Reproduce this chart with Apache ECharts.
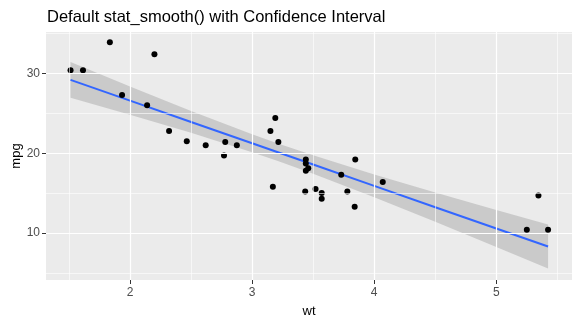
<!DOCTYPE html>
<html><head><meta charset="utf-8">
<script src="https://cdn.jsdelivr.net/npm/echarts@6/dist/echarts.min.js"></script>
<style>html,body{margin:0;padding:0;background:#fff}#c{width:580px;height:325px}</style>
</head><body><div id="c"></div>
<script>
// mtcars: weight (1000 lbs) and mpg
const wt  = [2.620,2.875,2.320,3.215,3.440,3.460,3.570,3.190,3.150,3.440,3.440,4.070,3.730,3.780,5.250,5.424,5.345,2.200,1.615,1.835,2.465,3.520,3.435,3.840,3.845,1.935,2.140,1.513,3.170,2.770,3.570,2.780];
const mpg = [21.0,21.0,22.8,21.4,18.7,18.1,14.3,24.4,22.8,19.2,17.8,16.4,17.3,15.2,10.4,10.4,14.7,32.4,30.4,33.9,21.5,15.5,15.2,13.3,19.2,27.3,26.0,30.4,15.8,19.7,15.0,21.4];
// smooth line and confidence band, read at these x positions
const bandX     = [1.513, 2.0, 2.5, 3.0, 3.217, 3.5, 4.0, 4.5, 5.0, 5.424];
const fitY      = [29.20, 26.60, 23.92, 21.25, 20.09, 18.58, 15.91, 13.23, 10.56, 8.30];
const lowerY    = [26.96, 24.82, 22.55, 20.12, 18.99, 17.43, 14.49, 11.40, 8.25, 5.55];
const upperY    = [31.43, 28.37, 25.30, 22.38, 21.19, 19.73, 17.32, 15.07, 12.88, 11.05];
// ticks
const xMajor = [2, 3, 4, 5];
const xMinor = [1.5, 2.5, 3.5, 4.5, 5.5];
const yMajor = [10, 20, 30];
const yMinor = [5, 15, 25, 35];

const points = wt.map((w, i) => [w, mpg[i]]);
const fitLine = bandX.map((x, i) => [x, fitY[i]]);
const bandData = bandX.map((x, i) => [x, lowerY[i], upperY[i]]);

const gridLines = [];
xMinor.forEach(v => gridLines.push({xAxis: v, lineStyle: {width: 0.6}}));
yMinor.forEach(v => gridLines.push({yAxis: v, lineStyle: {width: 0.6}}));
xMajor.forEach(v => gridLines.push({xAxis: v, lineStyle: {width: 1.2}}));
yMajor.forEach(v => gridLines.push({yAxis: v, lineStyle: {width: 1.2}}));

const font = 'Liberation Sans, Arial, sans-serif';
const chart = echarts.init(document.getElementById('c'), null, {renderer: 'canvas'});
chart.setOption({
  animation: false,
  title: {
    text: 'Default stat_smooth() with Confidence Interval',
    left: 42, top: 4,
    textStyle: {fontFamily: font, fontSize: 16.5, fontWeight: 'normal', color: '#000'}
  },
  grid: {left: 46, right: 8, top: 32, bottom: 45, show: true, backgroundColor: '#EBEBEB', borderWidth: 0,
         containLabel: false, outerBoundsMode: 'none'},
  xAxis: {
    type: 'value', min: 1.312, max: 5.62,
    name: 'wt', nameLocation: 'middle', nameGap: 25, nameMoveOverlap: false,
    nameTextStyle: {fontFamily: font, fontSize: 13, color: '#000'},
    axisLine: {show: false},
    axisTick: {show: true, length: 4, customValues: xMajor, lineStyle: {color: '#333', width: 1}},
    axisLabel: {customValues: xMajor, fontFamily: font, fontSize: 12, color: '#4D4D4D', margin: 7},
    splitLine: {show: false}
  },
  yAxis: {
    type: 'value', min: 4.1, max: 35.2,
    name: 'mpg', nameLocation: 'middle', nameGap: 23, nameRotate: 90, nameMoveOverlap: false,
    nameTextStyle: {fontFamily: font, fontSize: 13, color: '#000'},
    axisLine: {show: false},
    axisTick: {show: true, length: 4, customValues: yMajor, lineStyle: {color: '#333', width: 1}},
    axisLabel: {customValues: yMajor, fontFamily: font, fontSize: 12, color: '#4D4D4D', margin: 6},
    splitLine: {show: false}
  },
  series: [
    {
      type: 'line', data: [], z: 1, silent: true,
      markLine: {
        silent: true, symbol: 'none', animation: false,
        label: {show: false},
        lineStyle: {color: '#FFFFFF', type: 'solid'},
        data: gridLines
      }
    },
    {
      type: 'custom', z: 2, silent: true,
      data: bandData,
      renderItem: function (params, api) {
        if (params.dataIndex !== 0) return null;
        const upper = bandData.map(d => api.coord([d[0], d[2]]));
        const lower = bandData.slice().reverse().map(d => api.coord([d[0], d[1]]));
        return {
          type: 'polygon',
          shape: {points: upper.concat(lower)},
          style: {fill: 'rgba(153,153,153,0.4)', stroke: null}
        };
      },
      encode: {x: 0, y: [1, 2]}
    },
    {
      type: 'line', z: 3, data: fitLine, symbol: 'none', smooth: false,
      lineStyle: {color: '#3366FF', width: 2}
    },
    {
      type: 'scatter', z: 4, data: points, symbolSize: 6,
      itemStyle: {color: '#000000', opacity: 1}
    }
  ]
});
</script></body></html>
